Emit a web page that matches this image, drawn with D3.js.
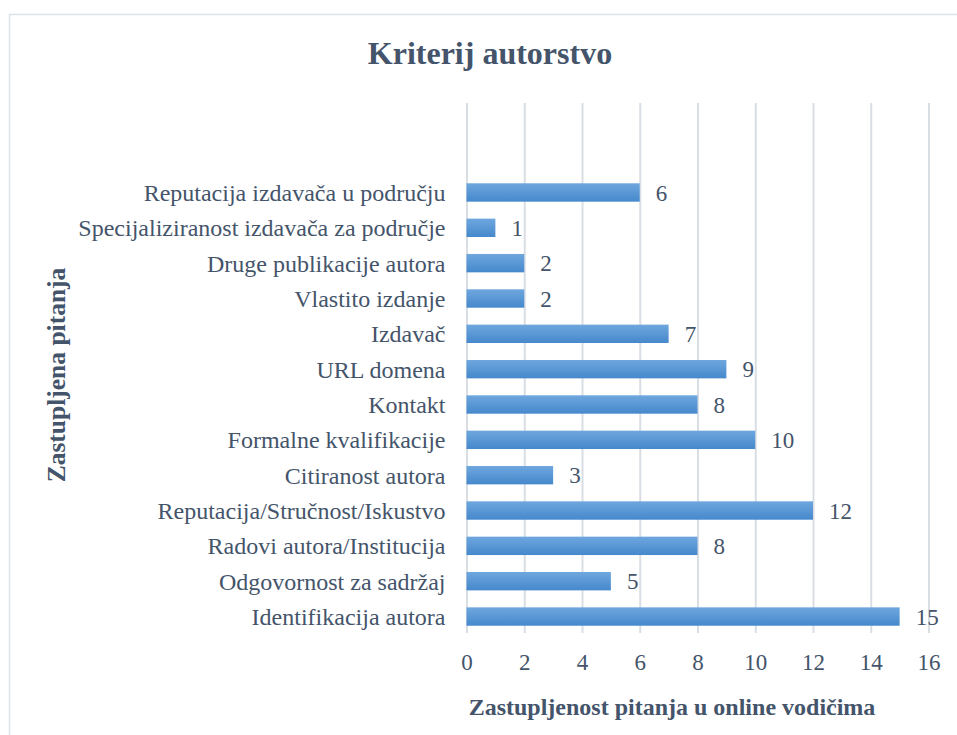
<!DOCTYPE html>
<html lang="hr">
  <head>
    <meta charset="utf-8">
    <title>Kriterij autorstvo</title>
    <style>
      body { margin: 0; background: #fff; }
      svg { display: block; }
      text { font-family: "Liberation Serif", "Times New Roman", serif; fill: #44546a; }
    </style>
    <script src="https://d3js.org/d3.v7.min.js"></script>
  </head>
  <body>
    <script>
    // categories top to bottom, as in the chart
    const categories = [
      "Reputacija izdavača u području",
      "Specijaliziranost izdavača za područje",
      "Druge publikacije autora",
      "Vlastito izdanje",
      "Izdavač",
      "URL domena",
      "Kontakt",
      "Formalne kvalifikacije",
      "Citiranost autora",
      "Reputacija/Stručnost/Iskustvo",
      "Radovi autora/Institucija",
      "Odgovornost za sadržaj",
      "Identifikacija autora"
    ];
    const values = [6, 1, 2, 2, 7, 9, 8, 10, 3, 12, 8, 5, 15];
    const xTicks = [0, 2, 4, 6, 8, 10, 12, 14, 16];

    const W = 957, H = 735;
    const plot = { left: 466.5, right: 928.5, top: 103, bottom: 633 };

    const svg = d3.select("body").append("svg")
      .attr("width", W)
      .attr("height", H);

    // chart frame (runs off the right and bottom edge)
    svg.append("rect")
      .attr("x", 9.5).attr("y", 14.5)
      .attr("width", W).attr("height", H)
      .attr("fill", "none")
      .attr("stroke", "#dde2e8")
      .attr("stroke-width", 1.5);

    const data = categories.map((c, i) => ({ cat: c, val: values[i] }));

    const x = d3.scaleLinear()
      .domain([0, 16])
      .range([plot.left, plot.right]);

    const y = d3.scaleBand()
      .domain(categories)
      .range([174.8, 634.2])
      .paddingInner(0.48)
      .paddingOuter(0.24);

    // gradient for bars
    const grad = svg.append("defs").append("linearGradient")
      .attr("id", "barGrad")
      .attr("x1", 0).attr("y1", 0).attr("x2", 0).attr("y2", 1);
    grad.append("stop").attr("offset", "0%").attr("stop-color", "#6fa7de");
    grad.append("stop").attr("offset", "100%").attr("stop-color", "#4588cc");

    // x axis with gridlines
    const xAxis = svg.append("g")
      .attr("transform", `translate(0,${plot.bottom})`)
      .call(d3.axisBottom(x)
        .tickValues(xTicks)
        .tickSize(-(plot.bottom - plot.top))
        .tickPadding(21));
    xAxis.select(".domain").remove();
    xAxis.selectAll(".tick line")
      .attr("stroke", "#d9dee5")
      .attr("stroke-width", 2);
    xAxis.selectAll(".tick text")
      .attr("fill", "#44546a")
      .style("font-family", "'Liberation Serif', 'Times New Roman', serif")
      .style("font-size", "23px");

    // category axis
    const yAxis = svg.append("g")
      .attr("transform", `translate(${plot.left},0)`)
      .call(d3.axisLeft(y).tickSize(0).tickPadding(21));
    yAxis.select(".domain").remove();
    yAxis.selectAll(".tick text")
      .attr("fill", "#44546a")
      .attr("dy", "0.36em")
      .style("font-family", "'Liberation Serif', 'Times New Roman', serif")
      .style("font-size", "24px");

    // bars
    svg.append("g")
      .selectAll("rect")
      .data(data)
      .join("rect")
      .attr("x", x(0))
      .attr("y", d => y(d.cat))
      .attr("width", d => x(d.val) - x(0))
      .attr("height", y.bandwidth())
      .attr("fill", "url(#barGrad)");

    // value labels
    svg.append("g")
      .selectAll("text")
      .data(data)
      .join("text")
      .attr("x", d => x(d.val) + 16)
      .attr("y", d => y(d.cat) + y.bandwidth() / 2)
      .attr("dy", "0.36em")
      .style("font-size", "23px")
      .text(d => d.val);

    // titles
    svg.append("text")
      .attr("x", 490)
      .attr("y", 64)
      .attr("text-anchor", "middle")
      .style("font-size", "32px")
      .style("font-weight", "bold")
      .text("Kriterij autorstvo");

    svg.append("text")
      .attr("x", 672)
      .attr("y", 715)
      .attr("text-anchor", "middle")
      .style("font-size", "24px")
      .style("font-weight", "bold")
      .text("Zastupljenost pitanja u online vodičima");

    svg.append("text")
      .attr("transform", "translate(65,375) rotate(-90)")
      .attr("text-anchor", "middle")
      .style("font-size", "25.5px")
      .style("font-weight", "bold")
      .text("Zastupljena pitanja");
    </script>
  </body>
</html>
